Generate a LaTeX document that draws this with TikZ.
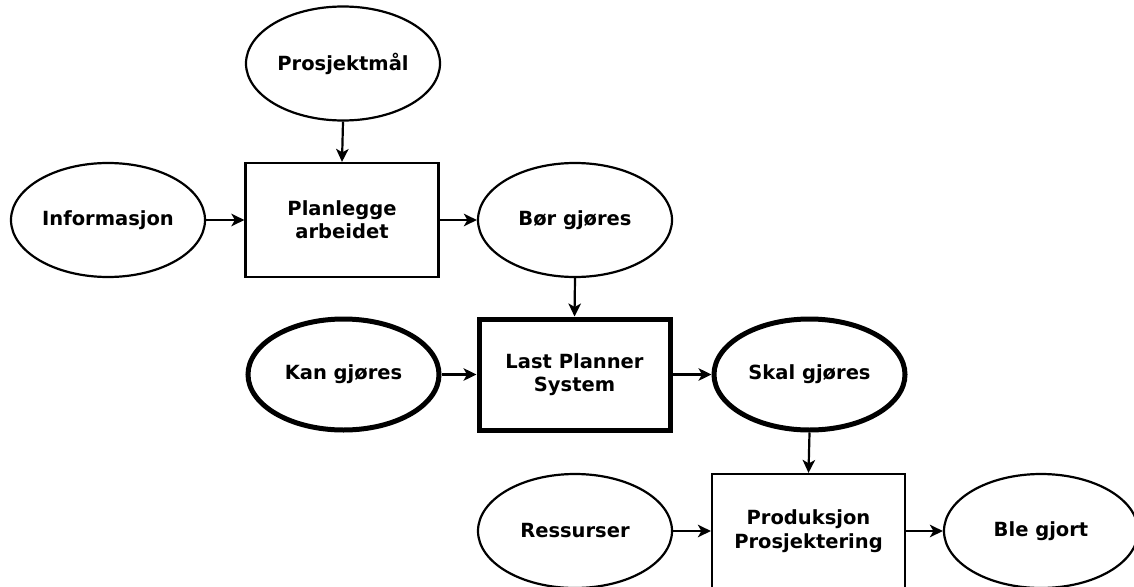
\documentclass[tikz,border=0pt]{standalone}
\usepackage{fontspec}
\setmainfont{DejaVu Sans}
\usetikzlibrary{shapes.geometric,arrows.meta}
\begin{document}
\begin{tikzpicture}[x=1pt,y=-1pt,
  every node/.style={font=\bfseries\fontsize{19.5}{23.4}\selectfont, align=center, inner sep=0pt, draw=black, fill=white},
  oval/.style={ellipse, line width=2.2pt, minimum width=194pt, minimum height=114pt},
  thickoval/.style={oval, line width=5pt, minimum width=191pt, minimum height=111pt},
  box/.style={rectangle, line width=2.2pt, minimum width=193pt, minimum height=114pt},
  thickbox/.style={box, line width=5pt, minimum width=191pt, minimum height=111pt},
  flow/.style={line width=2.2pt, -{Stealth[length=13pt,width=12.5pt,inset=3.5pt]}}
]
\clip (0,0) rectangle (1134,586);
\fill[white] (0,0) rectangle (1134,586);

% top chain: planning
\node[oval] (pm) at (343,63.5) {Prosjektmål};
\node[box] (plan) at (342,220) {Planlegge\\arbeidet};
\node[oval] (info) at (108,220) {Informasjon};
\node[oval] (bor) at (575,220) {Bør gjøres};

% middle chain: Last Planner
\node[thickbox] (lps) at (574.5,374.5) {Last Planner\\System};
\node[thickoval] (kan) at (343.5,374.5) {Kan gjøres};
\node[thickoval] (skal) at (809.5,374.5) {Skal gjøres};

% bottom chain: production
\node[box] (prod) at (808.5,531) {Produksjon\\Prosjektering};
\node[oval] (res) at (575,531) {Ressurser};
\node[oval] (ble) at (1041,531) {Ble gjort};

% connectors
\draw[flow] (pm.south) -- (plan.north);
\draw[flow] (info.east) -- (plan.west);
\draw[flow] (plan.east) -- (bor.west);
\draw[flow] (bor.south) -- (lps.north);
\draw[flow] (kan.east) -- (lps.west);
\draw[flow] (lps.east) -- (skal.west);
\draw[flow] (skal.south) -- (prod.north);
\draw[flow] (res.east) -- (prod.west);
\draw[flow] (prod.east) -- (ble.west);
\end{tikzpicture}
\end{document}
